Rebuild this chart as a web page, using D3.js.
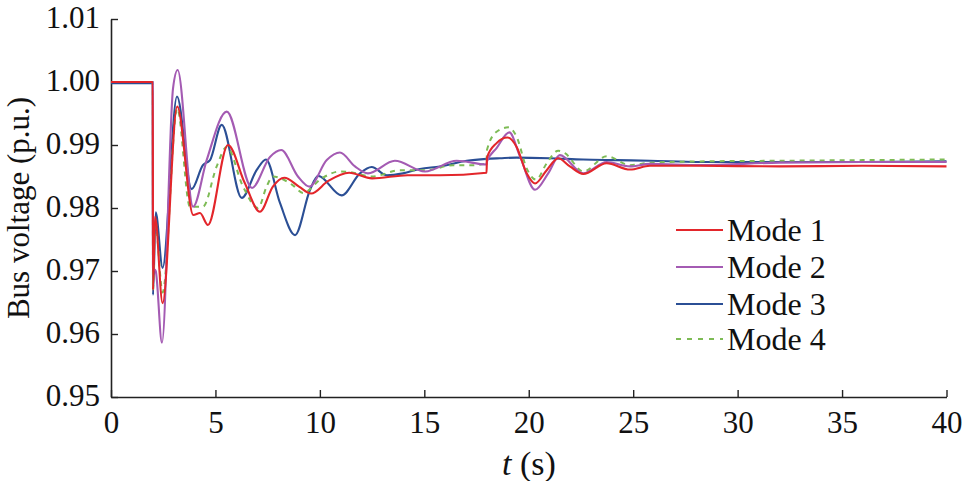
<!DOCTYPE html>
<html>
<head>
<meta charset="utf-8">
<script src="https://cdn.jsdelivr.net/npm/d3@7"></script>
<style>
  html, body { margin: 0; padding: 0; background: #fff; }
  svg { display: block; }
  text { font-family: "Liberation Serif", "Times New Roman", serif; fill: #111; }
</style>
</head>
<body>
<svg id="chart" width="964" height="481"></svg>
<script>
// ---- data ----
const xTicks = [0, 5, 10, 15, 20, 25, 30, 35, 40];
const yTicks = [0.95, 0.96, 0.97, 0.98, 0.99, 1.00, 1.01];
const seriesNames = ["Mode 1", "Mode 2", "Mode 3", "Mode 4"];

const mode1T = [0, 2.0, 2.01, 2.11, 2.47, 3.17, 3.94, 4.26, 4.64, 5.60, 6.40, 7.13, 7.75, 8.30, 9.00, 9.58, 10.40, 11.40, 12.50, 14.20, 15.75, 17.98, 18.0, 18.46, 18.98, 19.42, 19.90, 20.30, 20.86, 21.41, 21.97, 22.61, 23.73, 24.85, 25.80, 28.20, 32, 36, 40];
const mode1V = [1.0000, 1.0000, 0.9670, 0.9786, 0.9649, 0.9961, 0.9789, 0.9792, 0.9773, 0.9900, 0.9840, 0.9794, 0.9834, 0.9848, 0.9834, 0.9823, 0.9843, 0.9856, 0.9847, 0.9852, 0.9852, 0.9856, 0.9880, 0.9903, 0.9912, 0.9897, 0.9855, 0.9839, 0.9860, 0.9879, 0.9866, 0.9854, 0.9871, 0.9861, 0.9867, 0.9867, 0.9866, 0.9867, 0.9866];

const mode2T = [0, 2.0, 2.01, 2.14, 2.44, 2.97, 3.19, 3.93, 4.58, 5.54, 6.75, 7.61, 8.15, 8.95, 9.50, 10.33, 10.96, 11.68, 12.30, 13.59, 15.03, 16.55, 17.98, 18.0, 18.46, 19.07, 19.58, 20.30, 20.93, 21.49, 22.61, 23.73, 24.85, 25.80, 28.20, 32, 36, 40];
const mode2V = [1.0000, 1.0000, 0.9705, 0.9700, 0.9586, 0.9990, 1.0019, 0.9802, 0.9876, 0.9953, 0.9832, 0.9881, 0.9892, 0.9850, 0.9834, 0.9876, 0.9888, 0.9866, 0.9855, 0.9875, 0.9858, 0.9875, 0.9869, 0.9874, 0.9895, 0.9920, 0.9882, 0.9829, 0.9855, 0.9884, 0.9855, 0.9873, 0.9866, 0.9870, 0.9868, 0.9872, 0.9873, 0.9873];

const mode3T = [0, 2.0, 2.01, 2.14, 2.47, 3.16, 3.86, 4.40, 4.74, 5.30, 6.26, 6.97, 7.42, 8.09, 8.81, 9.53, 9.92, 11.04, 11.92, 12.48, 13.20, 13.98, 14.79, 15.75, 17.03, 17.98, 18.62, 19.42, 21.01, 22.60, 24.21, 25.80, 28.20, 32, 36, 40];
const mode3V = [0.9998, 0.9998, 0.9662, 0.9793, 0.9705, 0.9977, 0.9830, 0.9868, 0.9876, 0.9932, 0.9816, 0.9860, 0.9877, 0.9808, 0.9757, 0.9829, 0.9851, 0.9820, 0.9855, 0.9865, 0.9852, 0.9855, 0.9862, 0.9866, 0.9875, 0.9878, 0.9879, 0.9880, 0.9879, 0.9877, 0.9876, 0.9875, 0.9873, 0.9873, 0.9873, 0.9874];

const mode4T = [0, 2.0, 2.01, 2.11, 2.47, 3.17, 3.78, 4.40, 5.06, 5.54, 6.32, 7.04, 7.45, 7.75, 8.71, 9.19, 10.09, 10.96, 11.44, 12.50, 13.83, 15.11, 16.37, 17.33, 17.98, 18.0, 18.46, 19.02, 19.42, 19.90, 20.35, 20.86, 21.41, 21.73, 22.61, 23.73, 24.85, 25.80, 28.20, 32, 36, 40];
const mode4V = [1.0000, 1.0000, 0.9670, 0.9780, 0.9666, 0.9958, 0.9802, 0.9802, 0.9866, 0.9897, 0.9834, 0.9800, 0.9834, 0.9850, 0.9836, 0.9824, 0.9847, 0.9858, 0.9857, 0.9850, 0.9860, 0.9860, 0.9868, 0.9868, 0.9871, 0.9892, 0.9921, 0.9928, 0.9913, 0.9863, 0.9845, 0.9871, 0.9891, 0.9887, 0.9858, 0.9882, 0.9868, 0.9872, 0.9874, 0.9875, 0.9876, 0.9877];

const seriesT = [mode1T, mode2T, mode3T, mode4T];
const seriesV = [mode1V, mode2V, mode3V, mode4V];
const seriesColors = ["#e3262b", "#a45bb3", "#2b4f95", "#7dbb55"];
const seriesDash = [null, null, null, "5,5"];

// ---- layout ----
const svg = d3.select("#chart");
const x = d3.scaleLinear().domain([0, 40]).range([111, 946.5]);
const y = d3.scaleLinear().domain([0.95, 1.01]).range([397, 19]);

const fontSize = 31;

// axes
const gx = svg.append("g").attr("transform", `translate(0,${y(0.95)})`)
  .call(d3.axisBottom(x).tickValues(xTicks).tickSizeInner(-7).tickSizeOuter(0).tickPadding(14).tickFormat(d3.format("d")));
const gy = svg.append("g").attr("transform", `translate(${x(0)},0)`)
  .call(d3.axisLeft(y).tickValues(yTicks).tickSizeInner(-7).tickSizeOuter(0).tickPadding(11).tickFormat(d3.format(".2f")));

[gx, gy].forEach(g => {
  g.select(".domain").attr("stroke", "#222").attr("stroke-width", 1.6);
  g.selectAll(".tick line").attr("stroke", "#222").attr("stroke-width", 1.4);
  g.selectAll(".tick text").attr("font-size", fontSize)
    .attr("font-family", "'Liberation Serif', 'Times New Roman', serif").attr("fill", "#111");
});
gy.selectAll(".tick text").attr("dy", "0.27em");

// lines
const line = d3.line().curve(d3.curveMonotoneX)
  .x(d => x(d[0])).y(d => y(d[1]));

const order = [2, 3, 1, 0];
order.forEach(i => {
  const pts = seriesT[i].map((t, k) => [t, seriesV[i][k]]);
  const p = svg.append("path").datum(pts)
    .attr("d", line)
    .attr("fill", "none")
    .attr("stroke", seriesColors[i])
    .attr("stroke-width", i === 3 ? 2 : 2.1)
    .attr("stroke-linejoin", "round");
  if (seriesDash[i]) p.attr("stroke-dasharray", seriesDash[i]);
});

// axis labels
svg.append("text")
  .attr("transform", `translate(29,208) rotate(-90)`)
  .attr("text-anchor", "middle")
  .attr("font-size", fontSize)
  .text("Bus voltage (p.u.)");

const xl = svg.append("text")
  .attr("x", 529).attr("y", 475)
  .attr("text-anchor", "middle")
  .attr("font-size", 34);
xl.append("tspan").attr("font-style", "italic").text("t");
xl.append("tspan").text(" (s)");

// legend
const legendY = [230, 267, 304, 339];
const lg = svg.append("g");
seriesNames.forEach((name, i) => {
  const row = lg.append("g").attr("transform", `translate(0,${legendY[i]})`);
  row.append("line").attr("x1", 676).attr("x2", 723).attr("y1", 0).attr("y2", 0)
    .attr("stroke", seriesColors[i]).attr("stroke-width", 1.8)
    .attr("stroke-dasharray", seriesDash[i] ? "5,6" : null);
  row.append("text").attr("x", 727).attr("y", 11)
    .attr("font-size", 32).text(name);
});
</script>
</body>
</html>
